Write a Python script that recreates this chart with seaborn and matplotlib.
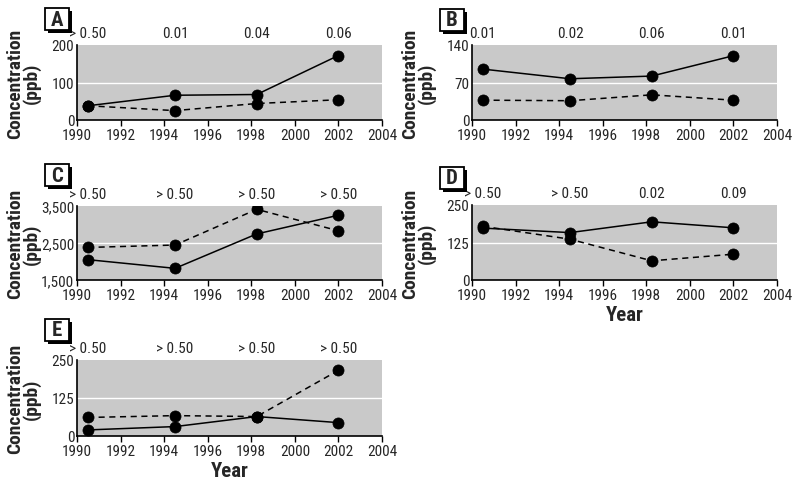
import matplotlib
matplotlib.use("Agg")
import matplotlib.pyplot as plt
import matplotlib.transforms as mtrans
from matplotlib import font_manager as fm
from matplotlib.patches import Rectangle
import pandas as pd
import seaborn as sns

# ---------------- data ----------------
years = [1990.5, 1994.5, 1998.25, 2002.0]
xticks = [1990, 1992, 1994, 1996, 1998, 2000, 2002, 2004]

panel_letters = ["A", "B", "C", "D", "E"]

solid_A = [38, 66, 68, 172]
dashed_A = [38, 25, 44, 54]
pvals_A = ["> 0.50", "0.01", "0.04", "0.06"]
yticks_A = [0, 100, 200]

solid_B = [95, 77, 82, 120]
dashed_B = [37, 36, 47, 37]
pvals_B = ["0.01", "0.02", "0.06", "0.01"]
yticks_B = [0, 70, 140]

solid_C = [2050, 1815, 2745, 3250]
dashed_C = [2380, 2445, 3410, 2830]
pvals_C = ["> 0.50", "> 0.50", "> 0.50", "> 0.50"]
yticks_C = [1500, 2500, 3500]
ytlabels_C = ["1,500", "2,500", "3,500"]

solid_D = [173, 158, 194, 174]
dashed_D = [179, 136, 64, 86]
pvals_D = ["> 0.50", "> 0.50", "0.02", "0.09"]
yticks_D = [0, 125, 250]

solid_E = [20, 31, 64, 44]
dashed_E = [61, 67, 64, 216]
pvals_E = ["> 0.50", "> 0.50", "> 0.50", "> 0.50"]
yticks_E = [0, 125, 250]

# ---------------- style ----------------
sns.set_style("ticks")


def pick_font():
    for fam in ["Liberation Sans Narrow", "Roboto Condensed", "DejaVu Sans"]:
        try:
            fm.findfont(fm.FontProperties(family=fam), fallback_to_default=False)
            return fam
        except Exception:
            pass
    return "DejaVu Sans"


FONT = pick_font()
plt.rcParams["font.family"] = [FONT, "DejaVu Sans"]

W, H = 796, 481
fig = plt.figure(figsize=(W / 100, H / 100), dpi=100)


def rect_px(l, t, r, b):
    return [l / W, 1 - b / H, (r - l) / W, (b - t) / H]


GRAY = "#c9c9c9"

# axes box (left, top, right, bottom) and letter-box top, in pixels
layout = {
    "A": ((77, 46, 382, 121), 9),
    "B": ((472, 46, 777, 121), 10),
    "C": ((77, 207, 382, 281), 165),
    "D": ((472, 206, 777, 281), 168),
    "E": ((77, 361, 382, 437), 320),
}

panels = {
    "A": (solid_A, dashed_A, pvals_A, yticks_A, None, False),
    "B": (solid_B, dashed_B, pvals_B, yticks_B, None, False),
    "C": (solid_C, dashed_C, pvals_C, yticks_C, ytlabels_C, False),
    "D": (solid_D, dashed_D, pvals_D, yticks_D, None, True),
    "E": (solid_E, dashed_E, pvals_E, yticks_E, None, True),
}

for letter in panel_letters:
    solid, dashed, pvals, yticks, ytl, show_year = panels[letter]
    (l, t, r, b), box_top = layout[letter]
    ax = fig.add_axes(rect_px(l, t, r, b))
    ax.set_facecolor(GRAY)

    df = pd.DataFrame({
        "year": years + years,
        "value": solid + dashed,
        "series": ["solid"] * len(years) + ["dashed"] * len(years),
    })
    ax.axhline(yticks[1], color="white", lw=1.0, zorder=1)
    sns.lineplot(
        data=df, x="year", y="value", style="series",
        style_order=["solid", "dashed"],
        dashes={"solid": "", "dashed": (4, 3)},
        markers={"solid": "o", "dashed": "o"},
        color="black", linewidth=1.1, markersize=8,
        markeredgecolor="black", markeredgewidth=0.5,
        legend=False, ax=ax, zorder=3,
    )

    ax.set_xlim(1990, 2004)
    ax.set_ylim(yticks[0], yticks[-1])
    ax.set_xticks(xticks)
    ax.set_xticklabels([str(x) for x in xticks], fontsize=11)
    ax.set_yticks(yticks)
    ax.set_yticklabels(ytl if ytl else [str(v) for v in yticks], fontsize=11)
    ax.tick_params(axis="x", direction="out", length=4, width=1, color="black", pad=2)
    ax.tick_params(axis="y", length=0, pad=2)
    for s in ["top", "right"]:
        ax.spines[s].set_visible(False)
    for s in ["left", "bottom"]:
        ax.spines[s].set_color("black")
        ax.spines[s].set_linewidth(1.2)

    ax.set_ylabel("Concentration\n(ppb)", fontsize=14, fontweight="bold",
                  linespacing=0.9)
    ax.yaxis.set_label_coords(-0.118, 0.5)
    if show_year:
        ax.set_xlabel("Year", fontsize=15, fontweight="bold", labelpad=2)
    else:
        ax.set_xlabel("")

    trans = mtrans.blended_transform_factory(ax.transData, ax.transAxes)
    for x, p in zip(years, pvals):
        ax.text(x, 1.07, p, transform=trans, ha="center", va="bottom",
                fontsize=11, clip_on=False)

    # panel letter box with drop shadow
    bl, bt, bw, bh = l - 32, box_top, 24, 22
    fig.patches.append(Rectangle(((bl + 3) / W, 1 - (bt + bh + 3) / H),
                                 bw / W, bh / H, transform=fig.transFigure,
                                 facecolor="black", edgecolor="black", lw=0))
    fig.patches.append(Rectangle((bl / W, 1 - (bt + bh) / H), bw / W, bh / H,
                                 transform=fig.transFigure, facecolor="white",
                                 edgecolor="black", lw=1.3))
    fig.text((bl + bw / 2) / W, 1 - (bt + bh / 2) / H, letter, ha="center",
             va="center", fontsize=15, fontweight="bold")

fig.savefig("out.png", dpi=100)
